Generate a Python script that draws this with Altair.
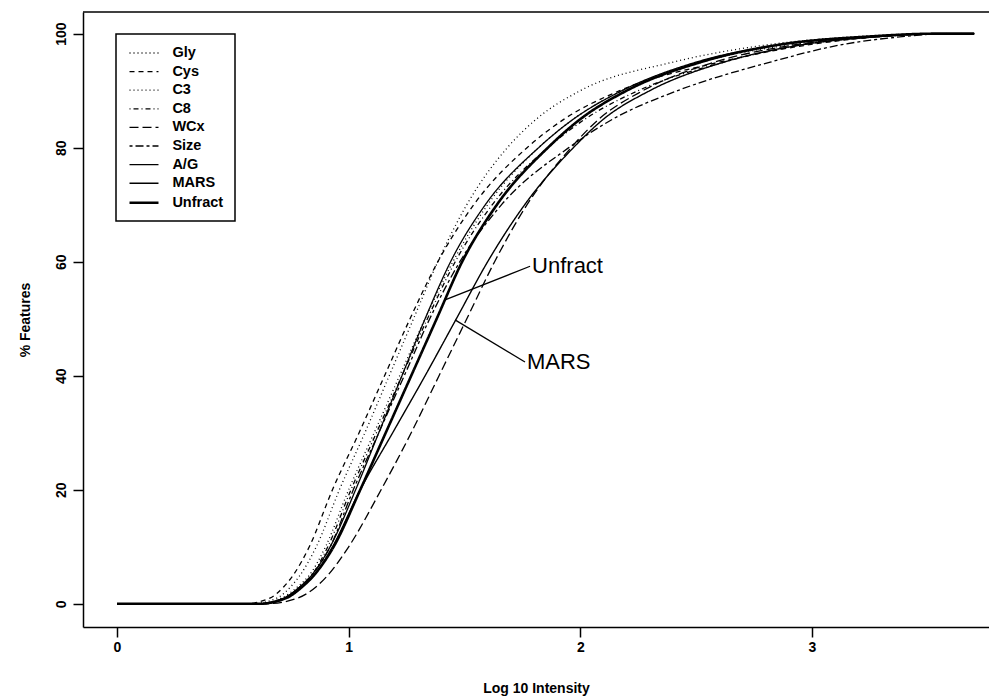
import altair as alt
import pandas as pd

# ---- data ----
series_names = ["Gly", "Cys", "C3", "C8", "WCx", "Size", "A/G", "MARS", "Unfract"]

# common cumulative % levels; each series gives the log10 intensity where it reaches that level
levels = [0, 0, 1, 3, 5, 10, 20, 30, 40, 50, 60, 70, 80, 85, 90, 95, 98, 99.5, 100, 100]

gly_x = [0, 0.58, 0.69, 0.75, 0.79, 0.86, 0.96, 1.07, 1.175, 1.28, 1.385, 1.51, 1.685, 1.81, 2.00, 2.40, 2.80, 3.20, 3.55, 3.70]
cys_x = [0, 0.55, 0.66, 0.72, 0.76, 0.83, 0.93, 1.045, 1.155, 1.265, 1.385, 1.54, 1.77, 1.93, 2.17, 2.60, 2.98, 3.30, 3.55, 3.70]
c3_x = [0, 0.60, 0.71, 0.78, 0.83, 0.90, 1.00, 1.11, 1.22, 1.33, 1.45, 1.60, 1.82, 1.97, 2.18, 2.52, 2.90, 3.25, 3.55, 3.70]
c8_x = [0, 0.61, 0.72, 0.79, 0.84, 0.91, 1.01, 1.12, 1.23, 1.34, 1.46, 1.62, 1.86, 2.02, 2.25, 2.62, 2.95, 3.30, 3.55, 3.70]
wcx_x = [0, 0.64, 0.78, 0.86, 0.91, 1.00, 1.14, 1.27, 1.39, 1.51, 1.63, 1.77, 1.96, 2.08, 2.27, 2.58, 2.92, 3.28, 3.55, 3.70]
size_x = [0, 0.61, 0.72, 0.79, 0.84, 0.92, 1.02, 1.13, 1.24, 1.35, 1.48, 1.66, 1.95, 2.14, 2.42, 2.82, 3.12, 3.40, 3.58, 3.70]
ag_x = [0, 0.60, 0.72, 0.79, 0.84, 0.92, 1.03, 1.13, 1.23, 1.33, 1.44, 1.59, 1.82, 1.97, 2.18, 2.50, 2.85, 3.25, 3.55, 3.70]
mars_x = [0, 0.62, 0.73, 0.80, 0.85, 0.93, 1.05, 1.19, 1.33, 1.465, 1.60, 1.76, 1.97, 2.10, 2.30, 2.62, 2.95, 3.30, 3.55, 3.70]
unfract_x = [0, 0.61, 0.73, 0.80, 0.85, 0.935, 1.05, 1.16, 1.27, 1.38, 1.49, 1.64, 1.86, 2.00, 2.20, 2.52, 2.85, 3.25, 3.55, 3.70]

series_x = [gly_x, cys_x, c3_x, c8_x, wcx_x, size_x, ag_x, mars_x, unfract_x]

x_ticks = [0, 1, 2, 3]
y_ticks = [0, 20, 40, 60, 80, 100]

# annotations: pointer start (on curve), pointer end / label anchor
ann_labels = ["Unfract", "MARS"]
ann_x1 = [1.416, 1.459]
ann_y1 = [53.3, 49.8]
ann_x2 = [1.783, 1.761]
ann_y2 = [59.2, 42.4]

# ---- styles ----
dashes = [[1, 3], [5, 4], [1, 3], [1, 3, 5, 3], [9, 4], [3, 3, 8, 3], [1, 0], [1, 0], [1, 0]]
widths = [1.3, 1.3, 1.3, 1.3, 1.3, 1.3, 1.3, 1.4, 2.6]

rows = []
for name, xs in zip(series_names, series_x):
    for i, (xv, yv) in enumerate(zip(xs, levels)):
        rows.append({"series": name, "x": xv, "y": yv, "i": i})
df = pd.DataFrame(rows)

ann = pd.DataFrame({"label": ann_labels, "x1": ann_x1, "y1": ann_y1, "x2": ann_x2, "y2": ann_y2})

W, H = 906, 615
FONT = "Liberation Sans"

xscale = alt.Scale(domain=[-0.1468, 3.764], nice=False, zero=False)
yscale = alt.Scale(domain=[-4.07, 103.79], nice=False, zero=False)

leg = dict(
    title=None, orient="none", legendX=33, legendY=22,
    symbolType="M-2,0H2", symbolSize=210, symbolStrokeColor="black",
    symbolFillColor="transparent", symbolOffset=8, labelOffset=19.4,
    labelFont=FONT, labelFontSize=14.5, labelFontWeight="bold", labelColor="black",
    padding=11, strokeColor="black", fillColor="white", rowPadding=3.6,
)

lines = alt.Chart(df).mark_line(color="black", interpolate="monotone").encode(
    x=alt.X("x:Q", scale=xscale,
            axis=alt.Axis(values=x_ticks, title="Log 10 Intensity", labelPadding=3,
                          titlePadding=27, format="d", labelFlush=False)),
    y=alt.Y("y:Q", scale=yscale,
            axis=alt.Axis(values=y_ticks, title="% Features", labelAngle=270,
                          labelAlign="center", labelBaseline="bottom", labelPadding=5,
                          titlePadding=22, format="d")),
    strokeDash=alt.StrokeDash("series:N", scale=alt.Scale(domain=series_names, range=dashes),
                              legend=alt.Legend(**leg)),
    strokeWidth=alt.StrokeWidth("series:N",
                                scale=alt.Scale(type="ordinal", domain=series_names, range=widths),
                                legend=alt.Legend(**leg)),
    detail="series:N",
    order="i:Q",
)

pointers = alt.Chart(ann).mark_rule(color="black", strokeWidth=1.3).encode(
    x="x1:Q", y="y1:Q", x2="x2:Q", y2="y2:Q"
)

labels = alt.Chart(ann).mark_text(
    align="left", baseline="middle", dx=2, font=FONT, fontSize=22, color="black"
).encode(x="x2:Q", y="y2:Q", text="label:N")

top_frame = alt.Chart(pd.DataFrame({"a": [0]})).mark_rule(color="black", strokeWidth=1.5).encode(
    x=alt.value(0), x2=alt.value(W), y=alt.value(0)
)

chart = alt.layer(lines, pointers, labels, top_frame).properties(
    width=W, height=H,
    autosize=alt.AutoSizeParams(type="none"),
    padding={"left": 75, "top": 4, "right": 0, "bottom": 72},
    background="white",
).configure_view(stroke=None).configure_axis(
    domainColor="black", domainWidth=1.5, tickColor="black", tickWidth=1.5, tickSize=10,
    labelFont=FONT, labelFontSize=14, labelFontWeight="bold", labelColor="black",
    titleFont=FONT, titleFontSize=14, titleFontWeight="bold", titleColor="black",
    grid=False,
).configure_legend(strokeWidth=1.5)

chart.save("out.html", embed_options={"renderer": "svg", "actions": False})
